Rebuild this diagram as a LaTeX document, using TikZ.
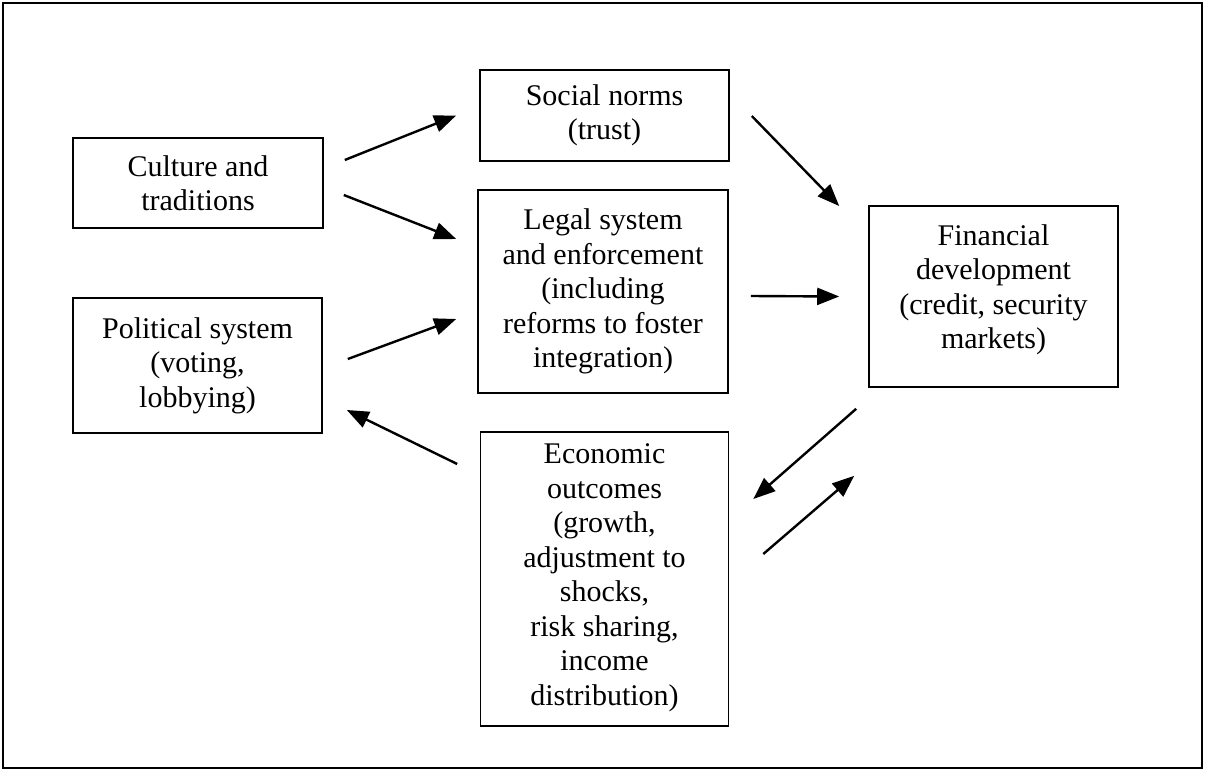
\documentclass[tikz,border=0pt]{standalone}
\usepackage{fontspec}
\setmainfont{Liberation Serif}
\usetikzlibrary{arrows.meta}
\begin{document}
\begin{tikzpicture}[x=1pt,y=-1pt,
    caja/.style={draw,line width=1.6pt,align=center,inner sep=0pt,font=\fontsize{30}{34.5}\selectfont},
    flecha/.style={line width=2.4pt,-{Triangle[length=22pt,width=17pt]}}]

    %Marco
    \useasboundingbox (0,0) rectangle (1205,771);
    \draw[line width=1.6pt] (3,3) rectangle (1202,768);

    %Cajas
    \node[caja,minimum width=250pt,minimum height=90pt] (culture) at (198,183) {Culture and\\traditions};
    \node[caja,minimum width=249pt,minimum height=135pt] (political) at (197.5,365.5) {Political system\\(voting,\\lobbying)};
    \node[caja,minimum width=249pt,minimum height=91pt] (social) at (604.5,115.5) {Social norms\\(trust)};
    \node[caja,minimum width=250pt,minimum height=203pt] (legal) at (603,291.5) {Legal system\\and enforcement\\(including\\reforms to foster\\integration)};
    \node[caja,minimum width=249pt,minimum height=181pt] (financial) at (993.5,296.5) {Financial\\development\\(credit, security\\markets)\\[-14.5pt]};
    \node[caja,minimum width=248pt,minimum height=294pt] (economic) at (604.5,579) {Economic\\outcomes\\(growth,\\adjustment to\\shocks,\\risk sharing,\\income\\distribution)\\[-26pt]};

    %Flechas
    \draw[flecha] ([shift={(21,-23)}]culture.east) -- ([shift={(-23,0)}]social.west);
    \draw[flecha] ([shift={(20,12)}]culture.east) -- ([shift={(-21,-52.5)}]legal.west);
    \draw[flecha] ([shift={(25,-6.5)}]political.east) -- ([shift={(-21,27.5)}]legal.west);
    \draw[flecha] ([shift={(-22.5,-115)}]economic.west) -- ([shift={(24,44.5)}]political.east);
    \draw[flecha] ([shift={(22,0.5)}]social.east) -- ([shift={(-29,-90.5)}]financial.west);
    \draw[flecha] ([shift={(22,4.5)}]legal.east) -- ([shift={(-29,0)}]financial.west);
    \draw[flecha] ([shift={(-12,21)}]financial.south west) -- ([shift={(24,-80)}]economic.east);
    \draw[flecha] ([shift={(34,-25)}]economic.east) -- ([shift={(-14,88)}]financial.south west);

\end{tikzpicture}
\end{document}
